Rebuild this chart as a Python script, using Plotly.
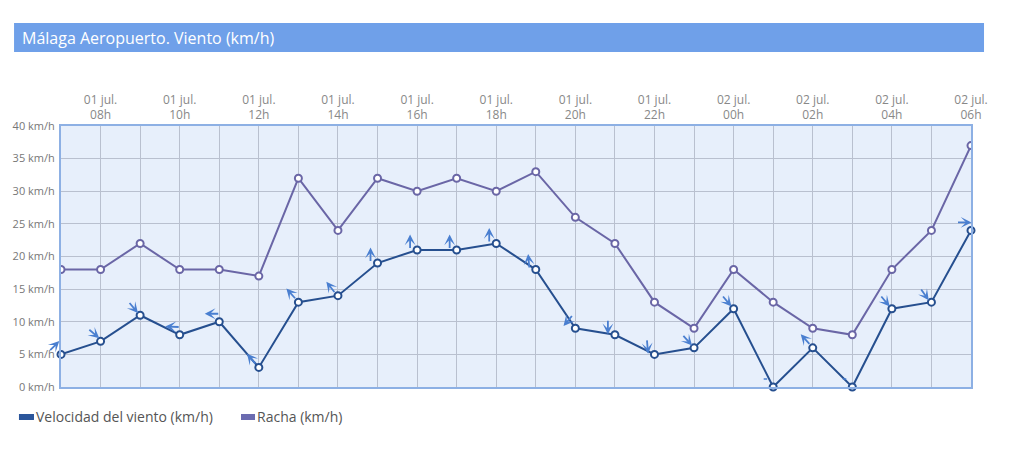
import math
import plotly.graph_objects as go

# hourly observations, 01 jul 07h -> 02 jul 06h
hours = ["01 jul.<br>07h", "01 jul.<br>08h", "01 jul.<br>09h", "01 jul.<br>10h",
         "01 jul.<br>11h", "01 jul.<br>12h", "01 jul.<br>13h", "01 jul.<br>14h",
         "01 jul.<br>15h", "01 jul.<br>16h", "01 jul.<br>17h", "01 jul.<br>18h",
         "01 jul.<br>19h", "01 jul.<br>20h", "01 jul.<br>21h", "01 jul.<br>22h",
         "01 jul.<br>23h", "02 jul.<br>00h", "02 jul.<br>01h", "02 jul.<br>02h",
         "02 jul.<br>03h", "02 jul.<br>04h", "02 jul.<br>05h", "02 jul.<br>06h"]
velocidad = [5, 7, 11, 8, 10, 3, 13, 14, 19, 21, 21, 22, 18, 9, 8, 5, 6, 12, 0, 6, 0, 12, 13, 24]
racha = [18, 18, 22, 18, 18, 17, 32, 24, 32, 30, 32, 30, 33, 26, 22, 13, 9, 18, 13, 9, 8, 18, 24, 37]
# direction the arrow points to (deg clockwise from north), None = calm
direccion = [45, 130, 140, 272, 270, 320, 318, 322, 0, 0, 0, 0, 355, 220, 180, 175,
             138, 140, None, 318, None, 140, 145, 90]

y_ticks = [0, 5, 10, 15, 20, 25, 30, 35, 40]
y_labels = [f"{v} km/h" for v in y_ticks]

series_names = ["Velocidad del viento (km/h)", "Racha (km/h)"]

x = list(range(len(hours)))

C_VEL = "#264f8f"
C_RAC = "#6a66a6"
C_ARROW = "#4a7fd0"
GRID = "#b9c0cf"

fig = go.Figure()

fig.add_trace(go.Scatter(
    x=x, y=racha, mode="lines+markers", name=series_names[1],
    line=dict(color=C_RAC, width=2),
    marker=dict(size=7, color="white", line=dict(color=C_RAC, width=2)),
))
fig.add_trace(go.Scatter(
    x=x, y=velocidad, mode="lines+markers", name=series_names[0], cliponaxis=False,
    line=dict(color=C_VEL, width=2),
    marker=dict(size=7, color="white", line=dict(color=C_VEL, width=2)),
))

# wind direction arrows
L = 15
for xi, v, d in zip(x, velocidad, direccion):
    if d is None:
        fig.add_annotation(x=xi, y=v, xshift=-6, yshift=8, ax=-5, ay=0, text="",
                           showarrow=True, arrowhead=0, arrowwidth=1.5,
                           arrowcolor=C_ARROW, standoff=0)
        continue
    s, c = math.sin(math.radians(d)), math.cos(math.radians(d))
    fig.add_annotation(
        x=xi, y=v, text="", showarrow=True,
        xshift=-7 + L / 2 * s, yshift=8 + L / 2 * c,
        ax=-L * s, ay=L * c,
        arrowhead=3, arrowsize=1.0, arrowwidth=1.8, arrowcolor=C_ARROW, standoff=0,
    )

# title bar
fig.add_shape(type="rect", xref="paper", yref="paper",
              x0=-0.0516, x1=1.0143, y0=1.2835, y1=1.3946,
              fillcolor="#6fa0e9", line_width=0, layer="below")
fig.add_annotation(xref="paper", yref="paper", x=-0.045, y=1.339,
                   xanchor="left", yanchor="middle", showarrow=False,
                   text="Málaga Aeropuerto. Viento (km/h)",
                   font=dict(size=16, color="white", family="Open Sans"))

# legend (rectangular swatches like the original widget)
legend_items = [(series_names[0], "#2b569b", -0.0462, -0.0297, -0.0297),
                (series_names[1], "#6b6bb0", 0.1978, 0.2132, 0.2132)]
for name, col, sx0, sx1, tx in legend_items:
    fig.add_shape(type="rect", xref="paper", yref="paper",
                  x0=sx0, x1=sx1, y0=-0.1264, y1=-0.1034,
                  fillcolor=col, line_width=0)
    fig.add_annotation(xref="paper", yref="paper", x=tx, y=-0.1149,
                       xanchor="left", yanchor="middle", showarrow=False,
                       text=name, font=dict(size=14, color="#555555", family="Open Sans"))

fig.update_layout(
    width=1005, height=450,
    margin=dict(l=53, r=42, t=118, b=71),
    paper_bgcolor="white", plot_bgcolor="#e7effb",
    font=dict(family="Open Sans", color="#777777", size=12),
    showlegend=False,
)
fig.update_xaxes(
    side="top", range=[0, len(hours) - 1], automargin=False,
    tickvals=x[1::2], ticktext=hours[1::2],
    showgrid=True, gridcolor=GRID, gridwidth=1,
    minor=dict(dtick=1, tick0=0, showgrid=True, gridcolor=GRID, gridwidth=1),
    showline=True, linecolor="#8db0e4", linewidth=2, mirror=True,
    ticks="", zeroline=False, tickfont=dict(size=12, color="#888888"),
)
fig.update_yaxes(
    range=[0, 40], tickvals=y_ticks, ticktext=y_labels, automargin=False,
    ticklabelstandoff=2,
    showgrid=True, gridcolor=GRID, gridwidth=1,
    showline=True, linecolor="#8db0e4", linewidth=2, mirror=True,
    ticks="", zeroline=False, tickfont=dict(size=11, color="#777777"),
)

fig.write_html("out.html")
